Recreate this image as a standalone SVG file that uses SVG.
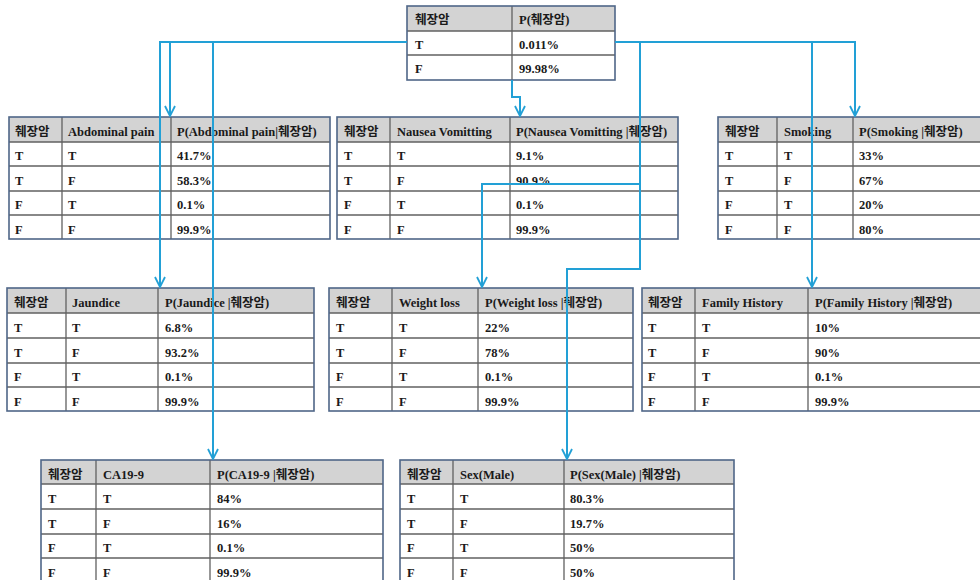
<svg xmlns="http://www.w3.org/2000/svg" width="980" height="580" viewBox="0 0 980 580">
<defs>
<style>
.bg{fill:#ffffff}
.hd{fill:#d3d3d3}
.ob{fill:none;stroke:#4f6688;stroke-width:1.6}
.il{stroke:#606060;stroke-width:1.3}
text{font-family:"Liberation Serif","Noto Sans CJK KR",serif;font-weight:bold;font-size:12.5px;fill:#1a1a1a}
.cn{fill:none;stroke:#22a0d6;stroke-width:2}
</style>
<marker id="ar" viewBox="0 0 12 12" refX="11" refY="6" markerWidth="12" markerHeight="12" markerUnits="userSpaceOnUse" orient="auto">
<path d="M1,1 L11,6 L1,11" fill="none" stroke="#22a0d6" stroke-width="1.8"/>
</marker>
</defs>
<rect width="980" height="580" fill="#ffffff"/>

<g id="root">
<rect class="bg" x="407" y="6" width="208" height="74"/>
<rect class="hd" x="407" y="6" width="208" height="25"/>
<line class="il" x1="407" y1="31" x2="615" y2="31"/>
<line class="il" x1="407" y1="55" x2="615" y2="55"/>
<line class="il" x1="512" y1="6" x2="512" y2="80"/>
<rect class="ob" x="407" y="6" width="208" height="74"/>
<text x="415" y="24">췌장암</text><text x="519" y="24">P(췌장암)</text>
<text x="415" y="49">T</text><text x="519" y="49">0.011%</text>
<text x="415" y="73">F</text><text x="519" y="73">99.98%</text>
</g>

<g id="abdominal">
<rect class="bg" x="9" y="117" width="321" height="122"/>
<rect class="hd" x="9" y="117" width="321" height="25"/>
<line class="il" x1="9" y1="142" x2="330" y2="142"/>
<line class="il" x1="9" y1="166" x2="330" y2="166"/>
<line class="il" x1="9" y1="191" x2="330" y2="191"/>
<line class="il" x1="9" y1="215" x2="330" y2="215"/>
<line class="il" x1="62" y1="117" x2="62" y2="239"/>
<line class="il" x1="171" y1="117" x2="171" y2="239"/>
<rect class="ob" x="9" y="117" width="321" height="122"/>
<text x="15" y="136">췌장암</text><text x="68" y="136">Abdominal pain</text><text x="177" y="136">P(Abdominal pain|췌장암)</text>
<text x="15" y="160">T</text><text x="68" y="160">T</text><text x="177" y="160">41.7%</text>
<text x="15" y="185">T</text><text x="68" y="185">F</text><text x="177" y="185">58.3%</text>
<text x="15" y="209">F</text><text x="68" y="209">T</text><text x="177" y="209">0.1%</text>
<text x="15" y="234">F</text><text x="68" y="234">F</text><text x="177" y="234">99.9%</text>
</g>

<g id="nausea">
<rect class="bg" x="337" y="117" width="341" height="122"/>
<rect class="hd" x="337" y="117" width="341" height="25"/>
<line class="il" x1="337" y1="142" x2="678" y2="142"/>
<line class="il" x1="337" y1="166" x2="678" y2="166"/>
<line class="il" x1="337" y1="191" x2="678" y2="191"/>
<line class="il" x1="337" y1="215" x2="678" y2="215"/>
<line class="il" x1="390" y1="117" x2="390" y2="239"/>
<line class="il" x1="510" y1="117" x2="510" y2="239"/>
<rect class="ob" x="337" y="117" width="341" height="122"/>
<text x="344" y="136">췌장암</text><text x="397" y="136">Nausea Vomitting</text><text x="516" y="136">P(Nausea Vomitting |췌장암)</text>
<text x="344" y="160">T</text><text x="397" y="160">T</text><text x="516" y="160">9.1%</text>
<text x="344" y="185">T</text><text x="397" y="185">F</text><text x="516" y="185">90.9%</text>
<text x="344" y="209">F</text><text x="397" y="209">T</text><text x="516" y="209">0.1%</text>
<text x="344" y="234">F</text><text x="397" y="234">F</text><text x="516" y="234">99.9%</text>
</g>

<g id="smoking">
<rect class="bg" x="718" y="117" width="262" height="122"/>
<rect class="hd" x="718" y="117" width="262" height="25"/>
<line class="il" x1="718" y1="142" x2="980" y2="142"/>
<line class="il" x1="718" y1="166" x2="980" y2="166"/>
<line class="il" x1="718" y1="191" x2="980" y2="191"/>
<line class="il" x1="718" y1="215" x2="980" y2="215"/>
<line class="il" x1="777" y1="117" x2="777" y2="239"/>
<line class="il" x1="853" y1="117" x2="853" y2="239"/>
<rect class="ob" x="718" y="117" width="264" height="122"/>
<text x="725" y="136">췌장암</text><text x="784" y="136">Smoking</text><text x="859" y="136">P(Smoking |췌장암)</text>
<text x="725" y="160">T</text><text x="784" y="160">T</text><text x="859" y="160">33%</text>
<text x="725" y="185">T</text><text x="784" y="185">F</text><text x="859" y="185">67%</text>
<text x="725" y="209">F</text><text x="784" y="209">T</text><text x="859" y="209">20%</text>
<text x="725" y="234">F</text><text x="784" y="234">F</text><text x="859" y="234">80%</text>
</g>

<g id="jaundice">
<rect class="bg" x="7" y="288" width="307" height="123"/>
<rect class="hd" x="7" y="288" width="307" height="25"/>
<line class="il" x1="7" y1="313" x2="314" y2="313"/>
<line class="il" x1="7" y1="338" x2="314" y2="338"/>
<line class="il" x1="7" y1="363" x2="314" y2="363"/>
<line class="il" x1="7" y1="387" x2="314" y2="387"/>
<line class="il" x1="66" y1="288" x2="66" y2="411"/>
<line class="il" x1="158" y1="288" x2="158" y2="411"/>
<rect class="ob" x="7" y="288" width="307" height="123"/>
<text x="14" y="307">췌장암</text><text x="72" y="307">Jaundice</text><text x="165" y="307">P(Jaundice |췌장암)</text>
<text x="14" y="332">T</text><text x="72" y="332">T</text><text x="165" y="332">6.8%</text>
<text x="14" y="357">T</text><text x="72" y="357">F</text><text x="165" y="357">93.2%</text>
<text x="14" y="381">F</text><text x="72" y="381">T</text><text x="165" y="381">0.1%</text>
<text x="14" y="406">F</text><text x="72" y="406">F</text><text x="165" y="406">99.9%</text>
</g>

<g id="weightloss">
<rect class="bg" x="329" y="288" width="304" height="123"/>
<rect class="hd" x="329" y="288" width="304" height="25"/>
<line class="il" x1="329" y1="313" x2="633" y2="313"/>
<line class="il" x1="329" y1="338" x2="633" y2="338"/>
<line class="il" x1="329" y1="363" x2="633" y2="363"/>
<line class="il" x1="329" y1="387" x2="633" y2="387"/>
<line class="il" x1="392" y1="288" x2="392" y2="411"/>
<line class="il" x1="478" y1="288" x2="478" y2="411"/>
<rect class="ob" x="329" y="288" width="304" height="123"/>
<text x="336" y="307">췌장암</text><text x="399" y="307">Weight loss</text><text x="485" y="307">P(Weight loss |췌장암)</text>
<text x="336" y="332">T</text><text x="399" y="332">T</text><text x="485" y="332">22%</text>
<text x="336" y="357">T</text><text x="399" y="357">F</text><text x="485" y="357">78%</text>
<text x="336" y="381">F</text><text x="399" y="381">T</text><text x="485" y="381">0.1%</text>
<text x="336" y="406">F</text><text x="399" y="406">F</text><text x="485" y="406">99.9%</text>
</g>

<g id="familyhistory">
<rect class="bg" x="642" y="288" width="338" height="123"/>
<rect class="hd" x="642" y="288" width="338" height="25"/>
<line class="il" x1="642" y1="313" x2="980" y2="313"/>
<line class="il" x1="642" y1="338" x2="980" y2="338"/>
<line class="il" x1="642" y1="363" x2="980" y2="363"/>
<line class="il" x1="642" y1="387" x2="980" y2="387"/>
<line class="il" x1="695" y1="288" x2="695" y2="411"/>
<line class="il" x1="808" y1="288" x2="808" y2="411"/>
<rect class="ob" x="642" y="288" width="340" height="123"/>
<text x="648" y="307">췌장암</text><text x="702" y="307">Family History</text><text x="815" y="307">P(Family History |췌장암)</text>
<text x="648" y="332">T</text><text x="702" y="332">T</text><text x="815" y="332">10%</text>
<text x="648" y="357">T</text><text x="702" y="357">F</text><text x="815" y="357">90%</text>
<text x="648" y="381">F</text><text x="702" y="381">T</text><text x="815" y="381">0.1%</text>
<text x="648" y="406">F</text><text x="702" y="406">F</text><text x="815" y="406">99.9%</text>
</g>

<g id="ca199">
<rect class="bg" x="41" y="460" width="342" height="124"/>
<rect class="hd" x="41" y="460" width="342" height="24"/>
<line class="il" x1="41" y1="484" x2="383" y2="484"/>
<line class="il" x1="41" y1="509" x2="383" y2="509"/>
<line class="il" x1="41" y1="534" x2="383" y2="534"/>
<line class="il" x1="41" y1="558" x2="383" y2="558"/>
<line class="il" x1="96" y1="460" x2="96" y2="584"/>
<line class="il" x1="210" y1="460" x2="210" y2="584"/>
<rect class="ob" x="41" y="460" width="342" height="124"/>
<text x="48" y="479">췌장암</text><text x="103" y="479">CA19-9</text><text x="217" y="479">P(CA19-9 |췌장암)</text>
<text x="48" y="503">T</text><text x="103" y="503">T</text><text x="217" y="503">84%</text>
<text x="48" y="528">T</text><text x="103" y="528">F</text><text x="217" y="528">16%</text>
<text x="48" y="552">F</text><text x="103" y="552">T</text><text x="217" y="552">0.1%</text>
<text x="48" y="577">F</text><text x="103" y="577">F</text><text x="217" y="577">99.9%</text>
</g>

<g id="sexmale">
<rect class="bg" x="400" y="460" width="334" height="124"/>
<rect class="hd" x="400" y="460" width="334" height="24"/>
<line class="il" x1="400" y1="484" x2="734" y2="484"/>
<line class="il" x1="400" y1="509" x2="734" y2="509"/>
<line class="il" x1="400" y1="534" x2="734" y2="534"/>
<line class="il" x1="400" y1="558" x2="734" y2="558"/>
<line class="il" x1="453" y1="460" x2="453" y2="584"/>
<line class="il" x1="564" y1="460" x2="564" y2="584"/>
<rect class="ob" x="400" y="460" width="334" height="124"/>
<text x="407" y="479">췌장암</text><text x="460" y="479">Sex(Male)</text><text x="570" y="479">P(Sex(Male) |췌장암)</text>
<text x="407" y="503">T</text><text x="460" y="503">T</text><text x="570" y="503">80.3%</text>
<text x="407" y="528">T</text><text x="460" y="528">F</text><text x="570" y="528">19.7%</text>
<text x="407" y="552">F</text><text x="460" y="552">T</text><text x="570" y="552">50%</text>
<text x="407" y="577">F</text><text x="460" y="577">F</text><text x="570" y="577">50%</text>
</g>

<g id="connectors">
<path class="cn" d="M407,42 H160 V287" marker-end="url(#ar)"/>
<path class="cn" d="M170,42 V116" marker-end="url(#ar)"/>
<path class="cn" d="M213,42 V459" marker-end="url(#ar)"/>
<path class="cn" d="M512,80 V97 H520 V116" marker-end="url(#ar)"/>
<path class="cn" d="M615,42 H855 V116" marker-end="url(#ar)"/>
<path class="cn" d="M640,42 V184 H482 V287" marker-end="url(#ar)"/>
<path class="cn" d="M640,184 V269 H567 V459" marker-end="url(#ar)"/>
<path class="cn" d="M812,42 V287" marker-end="url(#ar)"/>
</g>
</svg>
